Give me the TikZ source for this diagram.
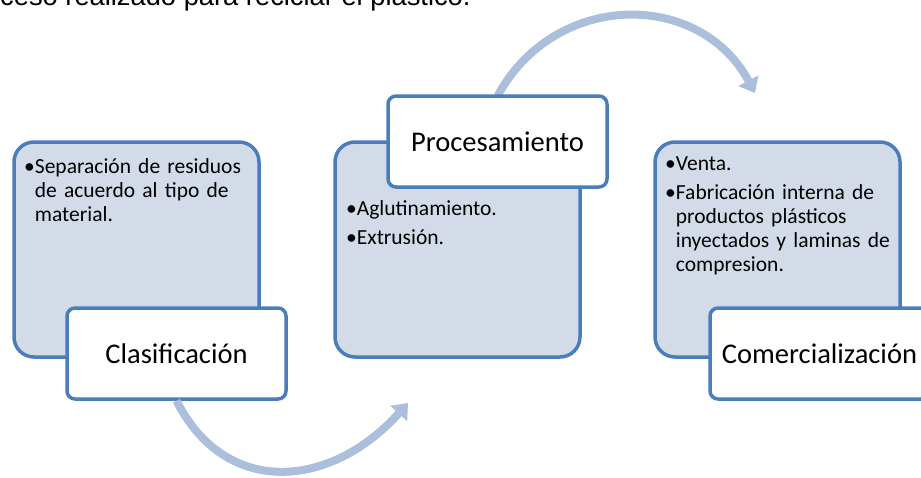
\documentclass[tikz,border=0pt]{standalone}
\usepackage{fontspec}
\setmainfont{Carlito}
\newfontfamily\titlefont{Liberation Sans}
\newfontfamily\itemfont{Carlito}
\usepackage{xcolor}
\usepackage{tikz}
\usetikzlibrary{
  arrows.meta,
  positioning
}
\definecolor{boxfill}{RGB}{211,219,232}
\definecolor{boxline}{RGB}{74,126,187}
\definecolor{flowblue}{RGB}{171,190,220}
\newlength{\bulletw}
\newcommand{\itm}[1]{\fontdimen2\font=3.8pt\relax
  \settowidth{\bulletw}{•}\hangindent=\bulletw\hangafter=1 \noindent\rule{0pt}{18pt}•#1\par}

\begin{document}
\begin{tikzpicture}[x=1pt, y=-1pt,
  bigbox/.style={draw=boxline, line width=3.5pt, fill=boxfill, rounded corners=20pt,
    minimum width=245pt, minimum height=215pt, inner sep=0pt},
  labelbox/.style={draw=boxline, line width=3.5pt, fill=white, rounded corners=8pt,
    minimum width=219pt, minimum height=91pt, inner sep=0pt, font=\fontsize{28.5}{34}\selectfont},
  itemtext/.style={anchor=north west, inner sep=0pt, text width=250pt,
    font=\itemfont\fontsize{21.5}{24}\selectfont\setlength{\parskip}{5pt}\raggedright},
  flow/.style={flowblue, line width=8pt, -{Triangle[width=22pt,length=14pt]}}]
\useasboundingbox (0,0) rectangle (921,477);
\clip (0,0) rectangle (921,477);

\node[anchor=base west, inner sep=0pt, font=\titlefont\fontsize{27.3}{32}\selectfont] (title) at (0,5)
  {ceso realizado para reciclar el plástico.};

% three stages
\node[bigbox] (clasbox) at (136.5,249.5) {};
\node[bigbox] (procbox) at (457.5,249.5) {};
\node[bigbox] (combox) at (777.5,249.5) {};

\node[itemtext] (clastext) at (24,155) {\itm{Separación de residuos\newline de acuerdo al tipo de\newline material.}};
\node[itemtext] (proctext) at (346,197) {\itm{Aglutinamiento.}\itm{Extrusión.}};
\node[itemtext] (comtext) at (665,152) {\itm{Venta.}\itm{Fabricación interna de\newline productos plásticos\newline inyectados y laminas de\newline compresion.}};

% curved arrows between stages
\coordinate (proctip) at (408,403);
\coordinate (comtip) at (755,93);

\node[labelbox] (clas) at (176.5,353.5) {Clasificación};
\draw[flow] (clas.south) .. controls (225,497) and (330,490) .. (proctip);

\draw[flow] (497.5,96) .. controls (555,-10) and (700,-10) .. (comtip);
\node[labelbox] (proc) at (497.5,141.5) {Procesamiento};

\node[labelbox] (com) at (819.5,353.5) {Comercialización};
\end{tikzpicture}
\end{document}
